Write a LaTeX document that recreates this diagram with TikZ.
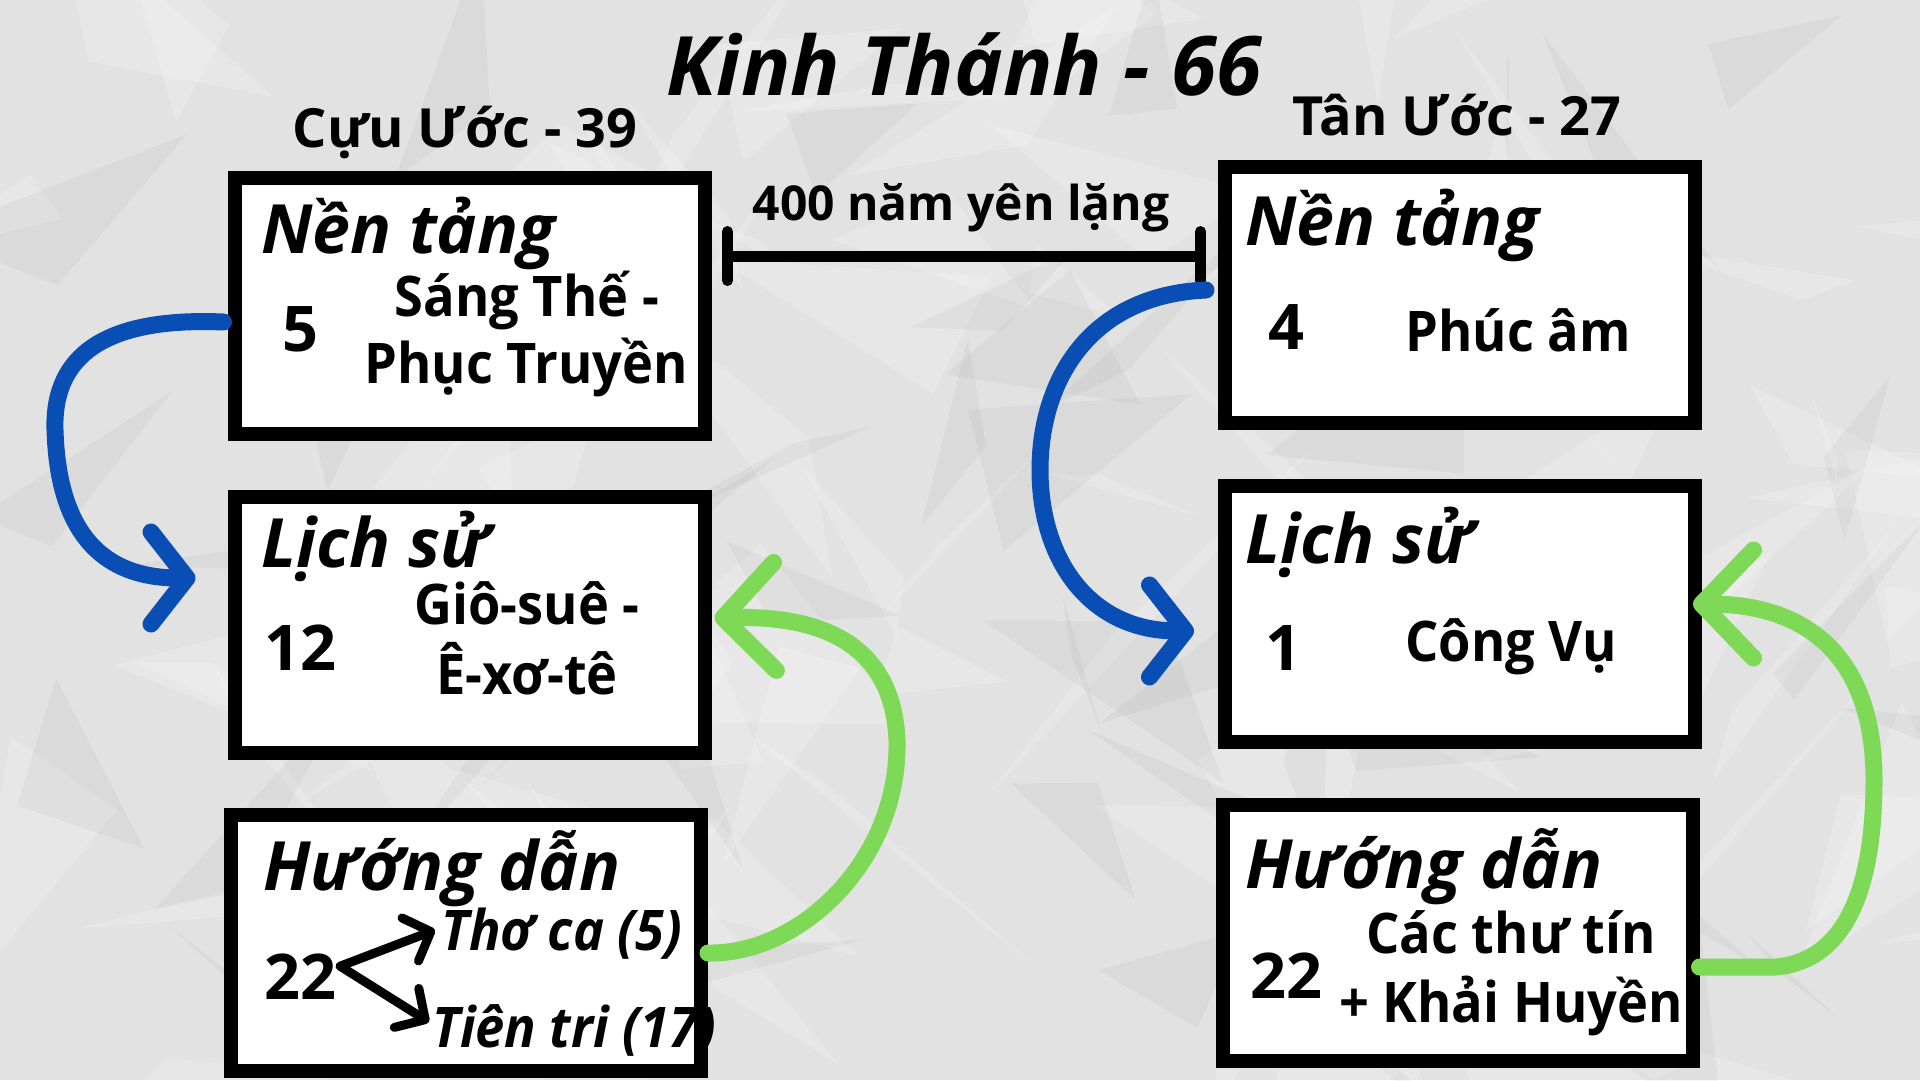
\documentclass[tikz,border=0pt]{standalone}
\usepackage{fontspec}
\setmainfont{Open Sans}
\newfontfamily\narrowfont[FakeStretch=0.935]{Open Sans}
\usetikzlibrary{arrows.meta,positioning,calc}

\definecolor{paper}{RGB}{226,226,226}
\definecolor{xblue}{RGB}{9,78,180}
\definecolor{xgreen}{RGB}{126,217,87}

\begin{document}
\begin{tikzpicture}[x=1pt,y=-1pt,
  book/.style={draw=black, fill=white, line width=14pt, minimum width=470pt,
               minimum height=256pt, inner sep=0pt},
  head/.style={font=\fontsize{68}{68}\selectfont\bfseries\itshape, anchor=base west, inner sep=0pt},
  count/.style={font=\fontsize{63}{63}\selectfont\bfseries, anchor=base, inner sep=0pt},
  names/.style={font=\narrowfont\fontsize{56}{56}\selectfont\bfseries, anchor=base, inner sep=0pt},
  split/.style={font=\narrowfont\fontsize{56}{56}\selectfont\bfseries\itshape, anchor=base west, inner sep=0pt},
  side/.style={font=\fontsize{54}{54}\selectfont\bfseries, anchor=base, inner sep=0pt},
  bluearr/.style={xblue, line width=17pt, line cap=round,
                  -{Straight Barb[round, length=36pt, width=92pt]}},
  greenarr/.style={xgreen, line width=17pt, line cap=round,
                   -{Straight Barb[round, length=52pt, width=108pt]}},
  splitarr/.style={black, line width=9pt, line cap=round,
                   -{Straight Barb[round, length=22pt, width=46pt]}},
  silence/.style={black, line width=11pt,
                  {Bar[width=49pt, round]}-{Bar[width=49pt, round]}}
]
  \useasboundingbox (0,0) rectangle (1920,1080);

  % crumpled paper
  \begin{scope}
    \clip (0,0) rectangle (1920,1080);
    \fill[paper] (0,0) rectangle (1920,1080);
    \pgfmathsetseed{31}
    \foreach \i in {1,...,90}{
      \pgfmathsetmacro{\ax}{rnd*1920}
      \pgfmathsetmacro{\ay}{rnd*1080}
      \fill[white, opacity=0.18] (\ax,\ay) -- ++({rand*220},{rand*220}) -- ++({rand*220},{rand*220}) -- cycle;
    }
    \foreach \i in {1,...,50}{
      \pgfmathsetmacro{\ax}{rnd*1920}
      \pgfmathsetmacro{\ay}{rnd*1080}
      \fill[black, opacity=0.03] (\ax,\ay) -- ++({rand*200},{rand*200}) -- ++({rand*200},{rand*200}) -- cycle;
    }
  \end{scope}

  % titles
  \node[font=\fontsize{82}{82}\selectfont\bfseries\itshape, anchor=base, inner sep=0pt] (bible) at (964,95) {Kinh Thánh - 66};
  \node[side] (oldt) at (465,147) {Cựu Ước - 39};
  \node[side] (newt) at (1457,135) {Tân Ước - 27};

  % Old Testament
  \node[book] (l1) at (469.5,306) {};
  \node[book] (l2) at (469.5,625) {};
  \node[book] (l3) at (466,943) {};

  \node[head] (l1h) at (261,253) {Nền tảng};
  \node[count] (l1n) at (300,351) {5};
  \node[names] (l1a) at (527,316) {Sáng Thế -};
  \node[names] (l1b) at (526,383) {Phục Truyền};

  \node[head] (l2h) at (261,567) {Lịch sử};
  \node[count] (l2n) at (300,670) {12};
  \node[names] (l2a) at (527,624) {Giô-suê -};
  \node[names] (l2b) at (527,694) {Ê-xơ-tê};

  \node[head] (l3h) at (263,890) {Hướng dẫn};
  \node[count] (l3n) at (300,999) {22};
  \node[split] (tho) at (441,950) {Thơ ca (5)};
  \node[split] (tien) at (432,1047) {Tiên tri (17)};
  \draw[splitarr] ([shift={(4,-10)}]l3n.east) -- ([shift={(-6,-20)}]tho.base west);
  \draw[splitarr] ([shift={(4,-10)}]l3n.east) -- ([shift={(-3,-25)}]tien.base west);

  % New Testament
  \node[book] (r1) at (1460,295) {};
  \node[book] (r2) at (1460,613.5) {};
  \node[book] (r3) at (1457.5,932.5) {};

  \node[head] (r1h) at (1245,245) {Nền tảng};
  \node[count] (r1n) at (1286,349) {4};
  \node[names] (r1a) at (1518,351) {Phúc âm};

  \node[head] (r2h) at (1245,563) {Lịch sử};
  \node[count] (r2n) at (1283,670) {1};
  \node[names] (r2a) at (1511,661) {Công Vụ};

  \node[head] (r3h) at (1245,888) {Hướng dẫn};
  \node[count] (r3n) at (1286,998) {22};
  \node[names] (r3a) at (1511,953) {Các thư tín};
  \node[names] (r3b) at (1511,1022) {+ Khải Huyền};

  % silent years
  \coordinate (gapL) at (722,256);
  \coordinate (gapR) at (1206,256);
  \draw[silence] (gapL) -- (gapR);
  \node[font=\fontsize{48}{48}\selectfont\bfseries, anchor=base, inner sep=0pt] (gap) at (961,220) {400 năm yên lặng};

  % reading order
  \draw[bluearr] ([shift={(-4,16)}]l1.west) .. controls (130,318) and (52,340) .. (55,430)
    .. controls (58,530) and (100,578) .. ([shift={(-32,-47)}]l2.west);
  \draw[bluearr] ([shift={(-12,-5)}]r1.west) .. controls (1090,295) and (1040,380) .. (1040,470)
    .. controls (1040,560) and (1090,631) .. ([shift={(-24,17.5)}]r2.west);
  \draw[greenarr] ([shift={(0,10)}]l3.east) .. controls (800,955) and (900,860) .. (897,740)
    .. controls (893,650) and (830,615) .. ([shift={(3,-7)}]l2.east);
  \draw[greenarr] ([shift={(0,34.5)}]r3.east) -- (1776,967) .. controls (1850,960) and (1874,880) .. (1874,780)
    .. controls (1874,650) and (1800,604) .. ([shift={(-9,-9.5)}]r2.east);
\end{tikzpicture}
\end{document}
